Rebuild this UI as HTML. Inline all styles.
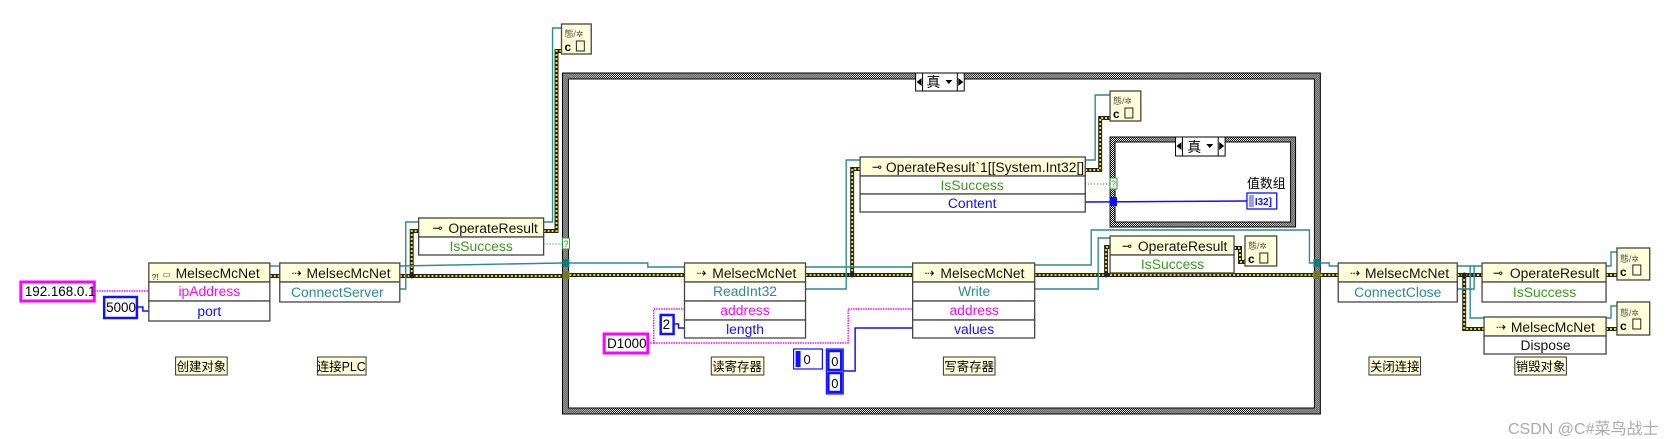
<!DOCTYPE html>
<html><head><meta charset="utf-8"><style>
html,body{margin:0;padding:0;background:#fff;}
svg{display:block;font-family:"Liberation Sans","Noto Sans CJK SC",sans-serif;}
.h{fill:#ffffda;stroke:#444;stroke-width:1.3}
.r{fill:#fff;stroke:#444;stroke-width:1.3}
.t{font-size:14px;text-anchor:middle}
.ht{font-size:14px;fill:#111}
.tl{fill:none;stroke:#2a8c8c;stroke-width:1.4}
.yb{fill:none;stroke:#222;stroke-width:4}
.yy{fill:none;stroke:#e8e000;stroke-width:2;stroke-dasharray:2,2}
.pk{fill:none;stroke:#ff00ff;stroke-width:1.4;stroke-dasharray:1.5,1}
.bl{fill:none;stroke:#1010ff;stroke-width:1.5}
.gd{fill:none;stroke:#2a9a2a;stroke-width:1.2;stroke-dasharray:1,2}
.lab{fill:#ffffda;stroke:#333;stroke-width:1}
.lt{font-size:12.5px;text-anchor:middle}
.sm{font-size:8px;fill:#222}
</style></head><body>
<svg width="1670" height="439" viewBox="0 0 1670 439">
<defs>
<pattern id="ck" width="2" height="2" patternUnits="userSpaceOnUse"><rect width="2" height="2" fill="#fff"/><rect width="1" height="1" fill="#000"/><rect x="1" y="1" width="1" height="1" fill="#000"/></pattern>
</defs>
<g transform="matrix(0.992,0,0,1,2,0)">
<rect x="565" y="73" width="764" height="341" fill="url(#ck)" stroke="#000"/>
<rect x="571" y="79" width="752" height="329" fill="#fff" stroke="#000"/>
<rect x="921" y="73" width="49" height="18" fill="#fff" stroke="#000"/>
<line x1="928" y1="73" x2="928" y2="91" stroke="#000"/><line x1="963" y1="73" x2="963" y2="91" stroke="#000"/>
<polygon points="922,82 927,78 927,86" fill="#000"/><polygon points="969,82 964,78 964,86" fill="#000"/>
<text x="932" y="87" font-size="14">真</text><polygon points="951,80 958,80 954.5,84" fill="#000"/>

<rect x="1117" y="137" width="187" height="90" fill="url(#ck)" stroke="#000"/>
<rect x="1122" y="142" width="177" height="80" fill="#fff" stroke="#000"/>
<rect x="1183" y="137" width="50" height="19" fill="#fff" stroke="#000"/>
<line x1="1190" y1="137" x2="1190" y2="156" stroke="#000"/><line x1="1226" y1="137" x2="1226" y2="156" stroke="#000"/>
<polygon points="1184,146 1189,142 1189,150" fill="#000"/><polygon points="1232,146 1227,142 1227,150" fill="#000"/>
<text x="1195" y="152" font-size="14">真</text><polygon points="1214,144 1221,144 1217.5,148" fill="#000"/>
<text x="1255" y="188" font-size="13">值数组</text>
<rect x="1255" y="193" width="30" height="16" fill="#fff" stroke="#1010ff" stroke-width="1.3"/>
<rect x="1257" y="195" width="5" height="12" fill="#99f"/>
<text x="1263" y="205" font-size="10" fill="#1010ff" font-weight="bold">I32]</text>

<polyline class="yb" points="270,276 280,276"/><polyline class="yy" points="270,276 280,276"/>
<polyline class="yb" points="401,276 565,276"/><polyline class="yy" points="401,276 565,276"/>
<polyline class="yb" points="413,276 413,231 420,231"/><polyline class="yy" points="413,276 413,231 420,231"/>
<polyline class="yb" points="546,231 559,231 559,51 564,51"/><polyline class="yy" points="546,231 559,231 559,51 564,51"/>
<polyline class="yb" points="572,275 688,275"/><polyline class="yy" points="572,275 688,275"/>
<polyline class="yb" points="810,275 918,275"/><polyline class="yy" points="810,275 918,275"/>
<polyline class="yb" points="857,275 857,169 865,169"/><polyline class="yy" points="857,275 857,169 865,169"/>
<polyline class="yb" points="1092,170 1107,170 1107,118 1117,118"/><polyline class="yy" points="1092,170 1107,170 1107,118 1117,118"/>
<polyline class="yb" points="1041,275 1322,275"/><polyline class="yy" points="1041,275 1322,275"/>
<polyline class="yb" points="1113,275 1113,247 1117,247"/><polyline class="yy" points="1113,275 1113,247 1117,247"/>
<polyline class="yb" points="1242,248 1248,248 1248,262 1253,262"/><polyline class="yy" points="1242,248 1248,248 1248,262 1253,262"/>
<polyline class="yb" points="1329,275 1347,275"/><polyline class="yy" points="1329,275 1347,275"/>
<polyline class="yb" points="1467,275 1492,275"/><polyline class="yy" points="1467,275 1492,275"/>
<polyline class="yb" points="1474,275 1474,329 1494,329"/><polyline class="yy" points="1474,275 1474,329 1494,329"/>
<polyline class="yb" points="1617,275 1628,275"/><polyline class="yy" points="1617,275 1628,275"/>
<polyline class="yb" points="1617,329 1628,329"/><polyline class="yy" points="1617,329 1628,329"/>
<circle cx="413" cy="276" r="2.5" fill="#222"/><circle cx="857" cy="275" r="2.5" fill="#222"/><circle cx="1113" cy="275" r="2.5" fill="#222"/><circle cx="1474" cy="275" r="2.5" fill="#222"/>

<polyline class="tl" points="270,266 280,266"/>
<polyline class="tl" points="401,266 565,263"/>
<polyline class="tl" points="401,289 407,289 407,222 420,222"/>
<polyline class="tl" points="546,222 555,222 555,28 564,28"/>
<polyline class="tl" points="572,263 651,263 651,267 688,267"/>
<polyline class="tl" points="810,267 918,267"/>
<polyline class="tl" points="810,289 851,289 851,160 865,160"/>
<polyline class="tl" points="1092,160 1102,160 1102,95 1117,95"/>
<polyline class="tl" points="1041,265 1098,265 1098,230 1318,230 1318,263 1322,263"/>
<polyline class="tl" points="1041,289 1105,289 1105,238 1117,238"/>
<polyline class="tl" points="1329,263 1338,263 1338,266 1347,266"/>
<polyline class="tl" points="1467,266 1492,266"/>
<polyline class="tl" points="1467,289 1484,289 1484,266"/>
<polyline class="tl" points="1480,266 1480,318 1494,318"/>
<polyline class="tl" points="1617,266 1622,266 1622,252 1628,252"/>
<polyline class="tl" points="1617,318 1622,318 1622,306 1628,306"/>

<polyline class="gd" points="546,244 565,244"/>
<polyline class="gd" points="1092,184 1117,184"/>
<polyline class="bl" points="1092,202 1255,201" stroke-width="2.5"/>
<rect x="1117" y="197" width="7" height="9" fill="#1010ff"/>
<polyline class="pk" points="93,291 148,291"/>
<polyline class="pk" points="651,343 657,343 657,309 688,309"/>
<polyline class="pk" points="657,343 853,343 853,309 918,309"/>
<polyline class="bl" points="136,307 142,307 142,311 148,311"/>
<polyline class="bl" points="677,324 682,324 682,328 688,328"/>
<polyline class="bl" points="848,371 860,371 860,328 918,328" stroke-width="2.5"/>

<rect x="565" y="259" width="7" height="8" fill="#157a7a"/>
<rect x="565" y="271" width="7" height="8" fill="#777720"/>
<rect x="1322" y="259" width="7" height="8" fill="#157a7a"/>
<rect x="1322" y="271" width="7" height="8" fill="#777720"/>
<rect x="565" y="238" width="7" height="11" fill="#fff" stroke="#2a9a2a"/><text x="566" y="247" font-size="9" fill="#2a9a2a">?</text>
<rect x="1117" y="178" width="7" height="11" fill="#fff" stroke="#2a9a2a"/><text x="1118" y="187" font-size="9" fill="#2a9a2a">?</text>

<rect x="19" y="282" width="74" height="19" fill="#fff" stroke="#ff00ff" stroke-width="3"/>
<text x="23" y="296" font-size="13.5">192.168.0.1</text>
<rect x="103" y="297" width="33" height="21" fill="#fff" stroke="#1010ff" stroke-width="2.5"/>
<text x="105" y="312" font-size="13.5">5000</text>
<rect x="607" y="334" width="44" height="19" fill="#fff" stroke="#ff00ff" stroke-width="3"/>
<text x="610" y="348" font-size="13.5">D1000</text>
<rect x="664" y="315" width="13" height="19" fill="#fff" stroke="#1010ff" stroke-width="2.5"/>
<text x="666" y="329" font-size="13.5">2</text>
<rect x="798" y="349" width="29" height="20" fill="#fff" stroke="#1010ff" stroke-width="1.2"/>
<rect x="800" y="351" width="5" height="16" fill="#1010ff"/><text x="808" y="364" font-size="13">0</text>
<rect x="831" y="349" width="17" height="45" fill="#fff" stroke="#1010ff" stroke-width="1.2"/>
<rect x="833" y="351" width="13" height="19" fill="#fff" stroke="#1010ff" stroke-width="2.5"/><text x="836" y="366" font-size="13">0</text>
<rect x="833" y="373" width="13" height="19" fill="#fff" stroke="#1010ff" stroke-width="2.5"/><text x="836" y="388" font-size="13">0</text>

<rect class="h" x="148" y="263" width="122" height="19"/>
<text class="ht" x="175" y="278">MelsecMcNet</text><text class="sm" x="151" y="280">?!</text><text class="sm" x="162" y="277">▭</text>
<rect class="r" x="148" y="282" width="122" height="19"/><text class="t" x="209" y="296" fill="#ff00ff">ipAddress</text>
<rect class="r" x="148" y="301" width="122" height="20"/><text class="t" x="209" y="316" fill="#1010ff">port</text>

<rect class="h" x="280" y="263" width="121" height="19"/>
<text class="ht" x="307" y="278">MelsecMcNet</text><text x="292" y="277" font-size="12">⇢</text>
<rect class="r" x="280" y="282" width="121" height="20"/><text class="t" x="338" y="297" fill="#2a8c8c">ConnectServer</text>

<rect class="h" x="420" y="218" width="126" height="19"/>
<text class="ht" x="450" y="233">OperateResult</text><text x="434" y="232" font-size="12">⊸</text>
<rect class="r" x="420" y="237" width="126" height="18"/><text class="t" x="483" y="251" fill="#3a9a1a">IsSuccess</text>

<g>
<rect class="h" x="564" y="24" width="30" height="30"/><text x="567" y="37" font-size="9" fill="#555">態/✲</text><text x="567" y="51" font-size="12" font-weight="bold">c</text><rect x="579" y="41" width="8" height="10" fill="none" stroke="#222"/>
<rect class="h" x="1117" y="91" width="31" height="30"/><text x="1120" y="104" font-size="9" fill="#555">態/✲</text><text x="1120" y="118" font-size="12" font-weight="bold">c</text><rect x="1132" y="108" width="8" height="10" fill="none" stroke="#222"/>
<rect class="h" x="1253" y="236" width="32" height="30"/><text x="1256" y="249" font-size="9" fill="#555">態/✲</text><text x="1256" y="263" font-size="12" font-weight="bold">c</text><rect x="1268" y="253" width="8" height="10" fill="none" stroke="#222"/>
<rect class="h" x="1628" y="248" width="33" height="32"/><text x="1631" y="262" font-size="9" fill="#555">態/✲</text><text x="1631" y="276" font-size="12" font-weight="bold">c</text><rect x="1644" y="265" width="8" height="10" fill="none" stroke="#222"/>
<rect class="h" x="1628" y="302" width="33" height="33"/><text x="1631" y="316" font-size="9" fill="#555">態/✲</text><text x="1631" y="330" font-size="12" font-weight="bold">c</text><rect x="1644" y="319" width="8" height="10" fill="none" stroke="#222"/>
</g>

<rect class="h" x="688" y="263" width="122" height="19"/>
<text class="ht" x="716" y="278">MelsecMcNet</text><text x="700" y="277" font-size="12">⇢</text>
<rect class="r" x="688" y="282" width="122" height="19"/><text class="t" x="749" y="296" fill="#2a8c8c">ReadInt32</text>
<rect class="r" x="688" y="301" width="122" height="19"/><text class="t" x="749" y="315" fill="#ff00ff">address</text>
<rect class="r" x="688" y="320" width="122" height="18"/><text class="t" x="749" y="334" fill="#1010ff">length</text>

<rect class="h" x="918" y="263" width="123" height="19"/>
<text class="ht" x="946" y="278">MelsecMcNet</text><text x="930" y="277" font-size="12">⇢</text>
<rect class="r" x="918" y="282" width="123" height="19"/><text class="t" x="980" y="296" fill="#2a8c8c">Write</text>
<rect class="r" x="918" y="301" width="123" height="19"/><text class="t" x="980" y="315" fill="#ff00ff">address</text>
<rect class="r" x="918" y="320" width="123" height="18"/><text class="t" x="980" y="334" fill="#1010ff">values</text>

<rect class="h" x="865" y="157" width="227" height="19"/>
<text class="ht" x="891" y="172" font-size="13.5">OperateResult`1[[System.Int32[]</text><text x="877" y="171" font-size="12">⊸</text>
<rect class="r" x="865" y="176" width="227" height="18"/><text class="t" x="978" y="190" fill="#3a9a1a">IsSuccess</text>
<rect class="r" x="865" y="194" width="227" height="18"/><text class="t" x="978" y="208" fill="#1010ff">Content</text>

<rect class="h" x="1117" y="236" width="125" height="19"/>
<text class="ht" x="1145" y="251">OperateResult</text><text x="1129" y="250" font-size="12">⊸</text>
<rect class="r" x="1117" y="255" width="125" height="18"/><text class="t" x="1180" y="269" fill="#3a9a1a">IsSuccess</text>

<rect class="h" x="1347" y="263" width="120" height="19"/>
<text class="ht" x="1374" y="278">MelsecMcNet</text><text x="1359" y="277" font-size="12">⇢</text>
<rect class="r" x="1347" y="282" width="120" height="20"/><text class="t" x="1407" y="297" fill="#2a8c8c">ConnectClose</text>

<rect class="h" x="1492" y="263" width="125" height="19"/>
<text class="ht" x="1520" y="278">OperateResult</text><text x="1503" y="277" font-size="12">⊸</text>
<rect class="r" x="1492" y="282" width="125" height="20"/><text class="t" x="1555" y="297" fill="#3a9a1a">IsSuccess</text>

<rect class="h" x="1494" y="317" width="123" height="19"/>
<text class="ht" x="1521" y="332">MelsecMcNet</text><text x="1506" y="331" font-size="12">⇢</text>
<rect class="r" x="1494" y="336" width="123" height="18"/><text class="t" x="1556" y="350" fill="#111">Dispose</text>

<rect class="lab" x="175" y="357" width="52" height="18"/><text class="lt" x="201" y="371">创建对象</text>
<rect class="lab" x="318" y="357" width="49" height="18"/><text class="lt" x="342" y="371">连接PLC</text>
<rect class="lab" x="715" y="357" width="53" height="18"/><text class="lt" x="741" y="371">读寄存器</text>
<rect class="lab" x="949" y="357" width="52" height="18"/><text class="lt" x="975" y="371">写寄存器</text>
<rect class="lab" x="1378" y="357" width="52" height="18"/><text class="lt" x="1404" y="371">关闭连接</text>
<rect class="lab" x="1525" y="357" width="52" height="18"/><text class="lt" x="1551" y="371">销毁对象</text>
</g>
<text x="1508" y="434" font-size="16" fill="#aaa">CSDN @C#菜鸟战士</text>
</svg>
</body></html>
